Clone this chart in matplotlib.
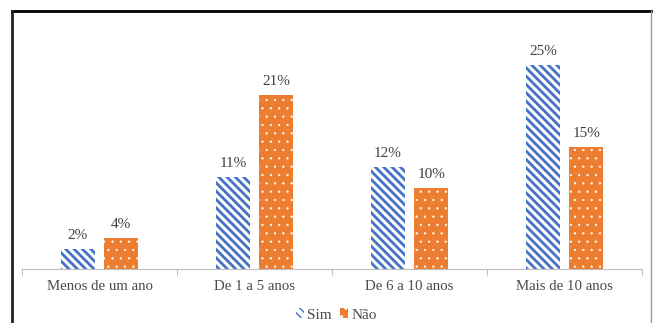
import matplotlib.pyplot as plt
import numpy as np
from matplotlib.patches import Patch
from matplotlib.lines import Line2D

categories = ['Menos de um ano', 'De 1 a 5 anos', 'De 6 a 10 anos', 'Mais de 10 anos']
sim = [2.4, 11.2, 12.4, 24.8]
nao = [3.8, 21.1, 9.9, 14.8]
labels_sim = ['2%', '11%', '12%', '25%']
labels_nao = ['4%', '21%', '10%', '15%']

blue = '#4472C4'
orange = '#ED7D31'

plt.rcParams['font.family'] = 'Liberation Serif'


def hatch_lw(patches, lw):
    for p in patches:
        if hasattr(p, 'set_hatch_linewidth'):
            p.set_hatch_linewidth(lw)


fig = plt.figure(figsize=(6.53, 3.23), dpi=100)
ax = fig.add_axes([0.0337, 0.167, 0.9495, 0.765])

x = np.arange(len(categories))
w = 0.22
off = 0.14

with plt.rc_context({'hatch.linewidth': 2.0}):
    b1 = ax.bar(x - off, sim, w, color='white', edgecolor=blue, hatch='\\\\\\\\', linewidth=0)
hatch_lw(b1, 2.0)
with plt.rc_context({'hatch.linewidth': 0.4}):
    b2 = ax.bar(x + off, nao, w, color=orange, edgecolor='white', hatch='..', linewidth=0)
hatch_lw(b2, 0.4)

for rect, lab in zip(b1, labels_sim):
    ax.annotate(lab, (rect.get_x() + rect.get_width() / 2, rect.get_height()),
                xytext=(0, 5), textcoords='offset points', ha='center', va='bottom',
                fontsize=11, color='#404040')
for rect, lab in zip(b2, labels_nao):
    ax.annotate(lab, (rect.get_x() + rect.get_width() / 2, rect.get_height()),
                xytext=(0, 5), textcoords='offset points', ha='center', va='bottom',
                fontsize=11, color='#404040')

ax.set_xlim(-0.5, 3.5)
ax.set_ylim(0, 30)
ax.set_yticks([])
for s in ['top', 'left', 'right']:
    ax.spines[s].set_visible(False)
ax.spines['bottom'].set_color('#BFBFBF')
ax.set_xticks(np.arange(-0.5, 4.0, 1.0))
ax.set_xticklabels([])
ax.tick_params(axis='x', which='major', length=4, color='#BFBFBF')
ax.set_xticks(x, minor=True)
ax.set_xticklabels(categories, minor=True, fontsize=10.7, color='#4a4a4a')
ax.tick_params(axis='x', which='minor', length=0, pad=8)

with plt.rc_context({'hatch.linewidth': 1.5}):
    h1 = Patch(facecolor='white', edgecolor=blue, hatch='\\\\\\\\', linewidth=0)
with plt.rc_context({'hatch.linewidth': 0.4}):
    h2 = Patch(facecolor=orange, edgecolor='white', hatch='..', linewidth=0)
hatch_lw([h1], 1.5)
hatch_lw([h2], 0.4)
fig.legend([h1, h2], ['Sim', 'Não'], loc='center', bbox_to_anchor=(0.515, 0.025),
           ncol=2, frameon=False, fontsize=11, handlelength=0.55, handleheight=0.6,
           handletextpad=0.2, columnspacing=0.5, labelcolor='#4a4a4a')

# outer frame
fig.add_artist(Line2D([12 / 653, 651 / 653], [1 - 11 / 323, 1 - 11 / 323],
                      transform=fig.transFigure, color='black', linewidth=2))
fig.add_artist(Line2D([12 / 653, 12 / 653], [0, 1 - 11 / 323],
                      transform=fig.transFigure, color='#222222', linewidth=2))
fig.add_artist(Line2D([651 / 653, 651 / 653], [0, 1 - 11 / 323],
                      transform=fig.transFigure, color='#999999', linewidth=1))

fig.savefig('out.png', dpi=100)
